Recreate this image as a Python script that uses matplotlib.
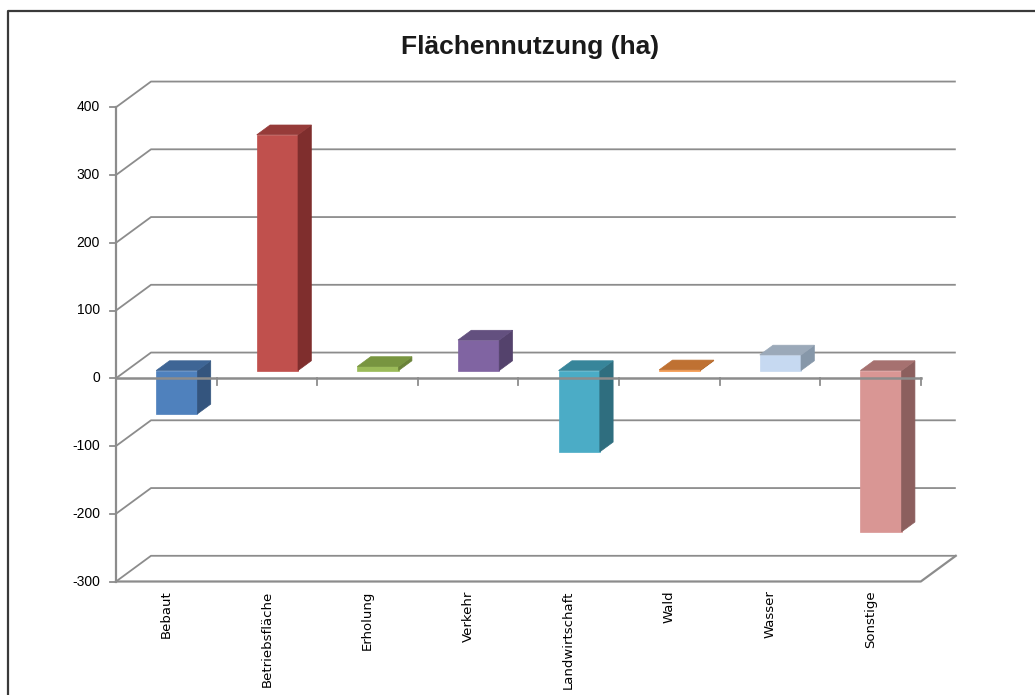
import numpy as np
import matplotlib
matplotlib.use('Agg')
import matplotlib.pyplot as plt
from matplotlib.patches import Polygon
from matplotlib.lines import Line2D

# data
categories = ['Bebaut', 'Betriebsfläche', 'Erholung', 'Verkehr',
              'Landwirtschaft', 'Wald', 'Wasser', 'Sonstige']
values = [-64, 348, 6, 45, -120, 1, 23, -238]
yticks = [-300, -200, -100, 0, 100, 200, 300, 400]

front_cols = ['#4F81BD', '#C0504D', '#9BBB59', '#8064A2',
              '#4BACC6', '#F79646', '#C6D9F1', '#D99694']
side_cols = ['#34557E', '#7F2E2D', '#6A8239', '#54426C',
             '#2F6E7F', '#B06A30', '#8697A9', '#8C5F5E']
top_cols = ['#3E6595', '#963B39', '#789540', '#63507F',
            '#37859A', '#BF7132', '#9BA9B9', '#A67170']

plt.rcParams['font.family'] = ['Liberation Sans', 'DejaVu Sans']

W, H = 1035, 695
fig = plt.figure(figsize=(W / 100, H / 100), dpi=100)

# projection of the 3d box (category units / value units)
px_cat = 100.6
px_val = 0.6775
dxb = 35 / px_cat     # back wall offset
dyb = 25.7 / px_val
d0 = 0.30             # bar front plane depth
bd = 0.38             # bar depth
bw = 0.41             # bar width

ymin, ymax = -300, 400
left_px, bottom_px = 116, 581.5
ax = fig.add_axes([left_px / W, (H - bottom_px) / H,
                   (8 + dxb) * px_cat / W, (ymax + dyb - ymin) * px_val / H])
ax.set_xlim(-0.5, 7.5 + dxb)
ax.set_ylim(ymin, ymax + dyb)
ax.axis('off')

grid_c = '#8C8C8C'
x_l = -0.5
x_r = len(categories) - 0.5

# walls / gridlines
for v in yticks:
    ax.plot([x_l, x_l + dxb, x_r + dxb], [v, v + dyb, v + dyb],
            color=grid_c, lw=1.3, zorder=1, clip_on=False,
            solid_capstyle='butt')
    ax.plot([x_l - 0.06, x_l], [v, v], color=grid_c, lw=1.3, zorder=4,
            clip_on=False)
    ax.annotate(str(v), (x_l, v), xytext=(-16, 0), textcoords='offset pixels',
                ha='right', va='center', fontsize=10, color='#000000')
# floor
ax.plot([x_l, x_r, x_r + dxb], [ymin, ymin, ymin + dyb], color=grid_c,
        lw=1.6, zorder=1, clip_on=False)
# value axis
ax.plot([x_l, x_l], [ymin, ymax], color=grid_c, lw=1.6, zorder=4,
        clip_on=False)

# bars
for i, v in enumerate(values):
    ox, oy = d0 * dxb, d0 * dyb
    ax.bar(i + ox, v, width=bw, bottom=oy, color=front_cols[i],
           edgecolor=front_cols[i], lw=0.5, zorder=2)
    lo, hi = min(0, v) + oy, max(0, v) + oy
    x0, x1 = i + ox - bw / 2, i + ox + bw / 2
    ddx, ddy = bd * dxb, bd * dyb
    side = Polygon([(x1, lo), (x1 + ddx, lo + ddy), (x1 + ddx, hi + ddy),
                    (x1, hi)], closed=True, facecolor=side_cols[i],
                   edgecolor=side_cols[i], lw=0.5, zorder=2)
    top = Polygon([(x0, hi), (x1, hi), (x1 + ddx, hi + ddy),
                   (x0 + ddx, hi + ddy)], closed=True, facecolor=top_cols[i],
                  edgecolor=top_cols[i], lw=0.5, zorder=2)
    ax.add_patch(side)
    ax.add_patch(top)

# category axis at zero
ax.plot([x_l, x_r], [0, 0], color=grid_c, lw=1.8, zorder=5, clip_on=False)
for k in range(len(categories)):
    ax.plot([k + 0.5, k + 0.5], [0, -10], color=grid_c, lw=1.3, zorder=5,
            clip_on=False)

for i, c in enumerate(categories):
    ax.annotate(c, (i, ymin), xytext=(0, -9), textcoords='offset pixels',
                rotation=90, ha='center', va='top', fontsize=9.5,
                family=['DejaVu Sans'])

fig.text(530 / W, 1 - 47 / H, 'Flächennutzung (ha)', ha='center',
         va='center', fontsize=19, fontweight='bold', color='#1A1A1A')

# chart border
fig.add_artist(Line2D([8 / W, 8 / W, 1], [0, 1 - 11 / H, 1 - 11 / H],
                      color='#3A3A3A', lw=1.6))

fig.savefig('out.png', dpi=100)
